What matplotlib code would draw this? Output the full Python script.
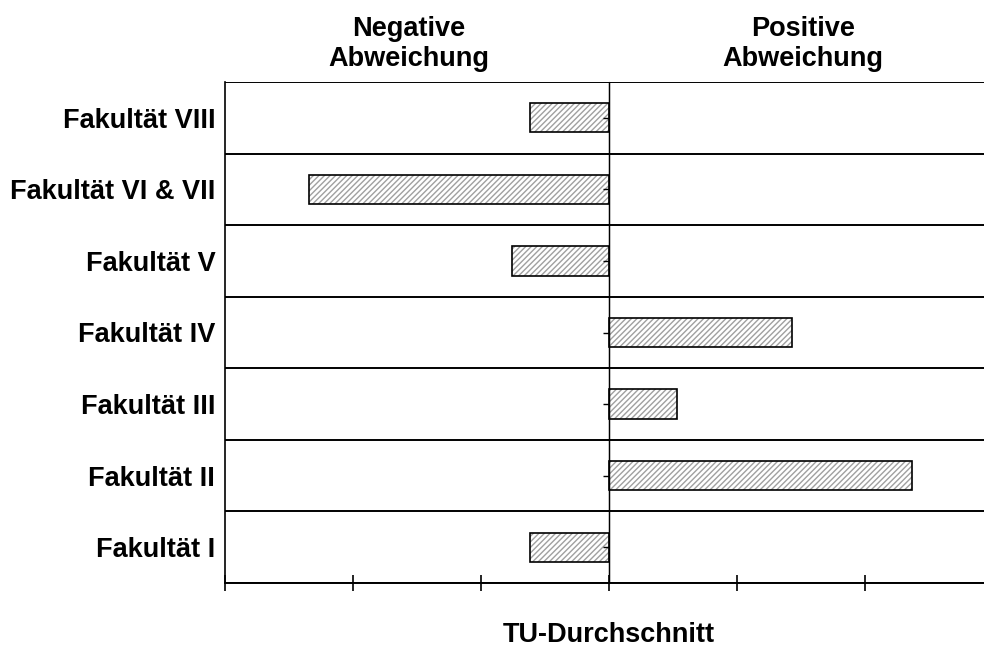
import matplotlib.pyplot as plt
import numpy as np

plt.rcParams['font.family'] = ['Liberation Sans', 'DejaVu Sans']
plt.rcParams['hatch.linewidth'] = 1.0

fakultaeten = ['Fakultät I', 'Fakultät II', 'Fakultät III', 'Fakultät IV',
               'Fakultät V', 'Fakultät VI & VII', 'Fakultät VIII']
abweichung = [-0.62, 2.37, 0.53, 1.43, -0.76, -2.34, -0.62]
xticks = [-3, -2, -1, 0, 1, 2]

fs = 19.5

fig = plt.figure(figsize=(9.84, 6.48), dpi=100)
ax = fig.add_axes([225/984, 1-583/648, 768/984, 501/648])

y = np.arange(len(fakultaeten))
# hatch in grey, outline in black
ax.barh(y, abweichung, height=0.41, color='white', edgecolor='#a0a0a0',
        hatch='//////', linewidth=0, zorder=2)
ax.barh(y, abweichung, height=0.41, fill=False, edgecolor='black',
        linewidth=1.2, zorder=3)

ax.set_xlim(-3, 3)
ax.set_ylim(-0.5, len(fakultaeten) - 0.5)

for k in range(len(fakultaeten) + 1):
    ax.axhline(k - 0.5, color='black', linewidth=1.4, zorder=1)
ax.axvline(0, color='black', linewidth=1.0, zorder=4)

for s in ['top', 'right']:
    ax.spines[s].set_visible(False)
ax.spines['left'].set_linewidth(1.2)
ax.spines['bottom'].set_linewidth(1.4)

ax.set_xticks(xticks)
ax.set_xticklabels([])
ax.tick_params(axis='x', direction='inout', length=12, width=1.2)

ax.set_yticks(y)
ax.set_yticklabels(fakultaeten, fontsize=fs, fontweight='bold')
ax.tick_params(axis='y', length=0, pad=7)

# small ticks on the zero line, pointing left
sec = ax.secondary_yaxis(0.5)
sec.set_yticks(y)
sec.set_yticklabels([])
sec.tick_params(length=4.5, width=1.0, direction='in')
sec.spines['left'].set_visible(False)
sec.set_zorder(5)

fig.text(409/984, 1-44/648, 'Negative\nAbweichung', ha='center', va='center',
         fontsize=fs, fontweight='bold', linespacing=1.15)
fig.text(803/984, 1-44/648, 'Positive\nAbweichung', ha='center', va='center',
         fontsize=fs, fontweight='bold', linespacing=1.15)
fig.text(609/984, 1-635/648, 'TU-Durchschnitt', ha='center', va='center',
         fontsize=fs, fontweight='bold')

fig.savefig('out.png', dpi=100)
